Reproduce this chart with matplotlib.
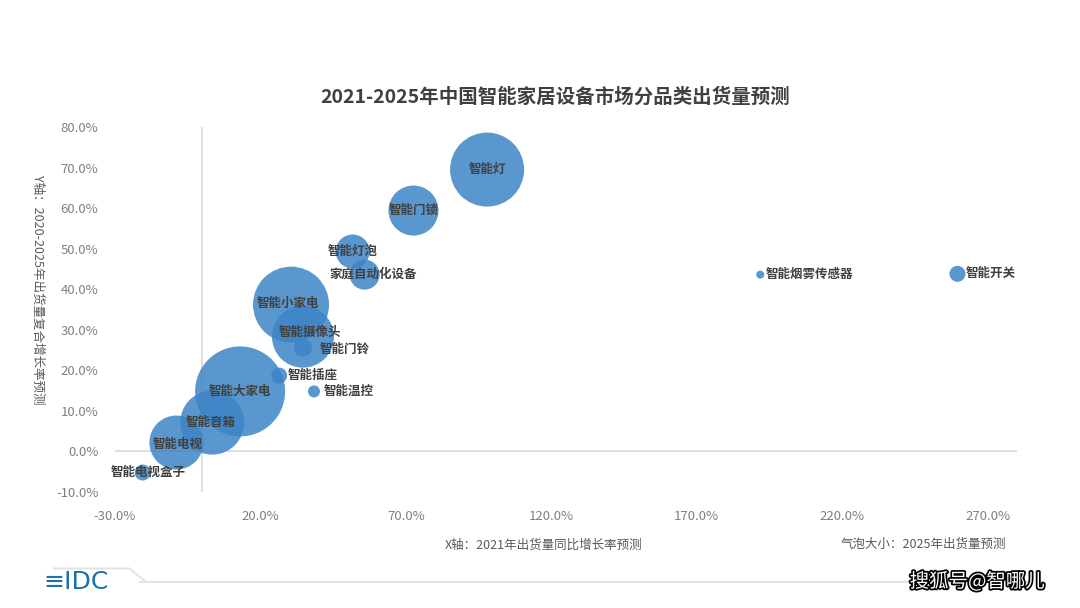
import matplotlib
matplotlib.use("Agg")
import matplotlib.pyplot as plt
import matplotlib.patheffects as pe
from matplotlib.ticker import FuncFormatter

plt.rcParams['font.family'] = ['Noto Sans CJK SC', 'DejaVu Sans']

# --- data ---
categories = ["智能灯", "智能门锁", "智能灯泡", "家庭自动化设备", "智能小家电", "智能摄像头",
              "智能门铃", "智能插座", "智能温控", "智能大家电", "智能音箱", "智能电视",
              "智能电视盒子", "智能烟雾传感器", "智能开关"]
growth_2021 = [97.9, 72.6, 51.7, 55.8, 30.5, 34.6, 34.6, 26.4, 38.4, 13.0, 3.4, -8.9,
               -20.5, 191.8, 259.6]          # X: 2021 yoy growth (%)
cagr_2020_2025 = [69.5, 59.4, 49.3, 43.6, 36.2, 28.3, 25.6, 18.7, 14.8, 14.8, 7.1, 2.2,
                  -5.2, 43.6, 43.8]          # Y: 2020-2025 CAGR (%)
shipments_2025 = [1369, 625, 289, 225, 1444, 961, 81, 64, 36, 2025, 1024, 729,
                  64, 16, 64]               # bubble size (relative)

# label placement: offset in points, horizontal alignment
label_offsets = [(0, 0, 'center'), (0, 0, 'center'), (0, 0, 'center'), (6, 0, 'center'),
                 (-2, 1, 'center'), (5, 3, 'center'), (12, -1, 'left'), (6, 0, 'left'),
                 (7, 0, 'left'), (0, 0, 'center'), (-1, 0, 'center'), (1, -1, 'center'),
                 (4, 0, 'center'), (4, 0, 'left'), (6, 0, 'left')]

fig = plt.figure(figsize=(10.8, 6.08), dpi=100)
ax = fig.add_axes([0.1065, 0.1908, 0.835, 0.6003])

sizes = [v * (2 * 0.72) ** 2 for v in shipments_2025]
ax.scatter(growth_2021, cagr_2020_2025, s=sizes, color='#3D85C6', alpha=0.85,
           linewidths=0, zorder=3)

for name, x, y, (dx, dy, ha) in zip(categories, growth_2021, cagr_2020_2025, label_offsets):
    ax.annotate(name, (x, y), xytext=(dx, dy), textcoords='offset points',
                ha=ha, va='center', fontsize=9, fontweight='bold', color='#404040', zorder=4)

ax.set_xlim(-30, 280)
ax.set_ylim(-10, 80)
ax.set_xticks(range(-30, 271, 50))
ax.set_yticks(range(-10, 81, 10))
pct = FuncFormatter(lambda v, p: f"{v:.1f}%")
ax.xaxis.set_major_formatter(pct)
ax.yaxis.set_major_formatter(pct)
ax.tick_params(length=0, labelsize=9.5, labelcolor='#808080', pad=13)
ax.tick_params(axis='y', pad=12)
for s in ax.spines.values():
    s.set_visible(False)
ax.axhline(0, color='#d9d9d9', lw=1.2, zorder=1)
ax.axvline(0, color='#d9d9d9', lw=1.2, zorder=1)

fig.text(0.514, 0.840, "2021-2025年中国智能家居设备市场分品类出货量预测", ha='center', va='center',
         fontsize=14, fontweight='bold', color='#404040')
fig.text(0.035, 0.523, "Y轴：2020-2025年出货量复合增长率预测", rotation=-90, ha='center', va='center',
         fontsize=9, color='#595959')
fig.text(0.503, 0.104, "X轴：2021年出货量同比增长率预测", ha='center', va='center',
         fontsize=9, color='#595959')
fig.text(0.855, 0.104, "气泡大小：2025年出货量预测", ha='center', va='center',
         fontsize=9, color='#595959')

# footer: IDC logo and divider
fig.text(0.04, 0.042, "≡IDC", ha='left', va='center', fontsize=18, color='#1F6FA8',
         family=['DejaVu Sans'])
fig.add_artist(plt.Line2D([0.13, 0.955], [0.043, 0.043], color='#e3e3e3', lw=1.5))
fig.add_artist(plt.Line2D([0.05, 0.12, 0.135], [0.065, 0.065, 0.043], color='#e3e3e3', lw=1.5))
fig.text(0.905, 0.043, "搜狐号@智哪儿", ha='center', va='center', fontsize=14, color='white',
         path_effects=[pe.withStroke(linewidth=2.5, foreground='black')])

fig.savefig("out.png", dpi=100)
